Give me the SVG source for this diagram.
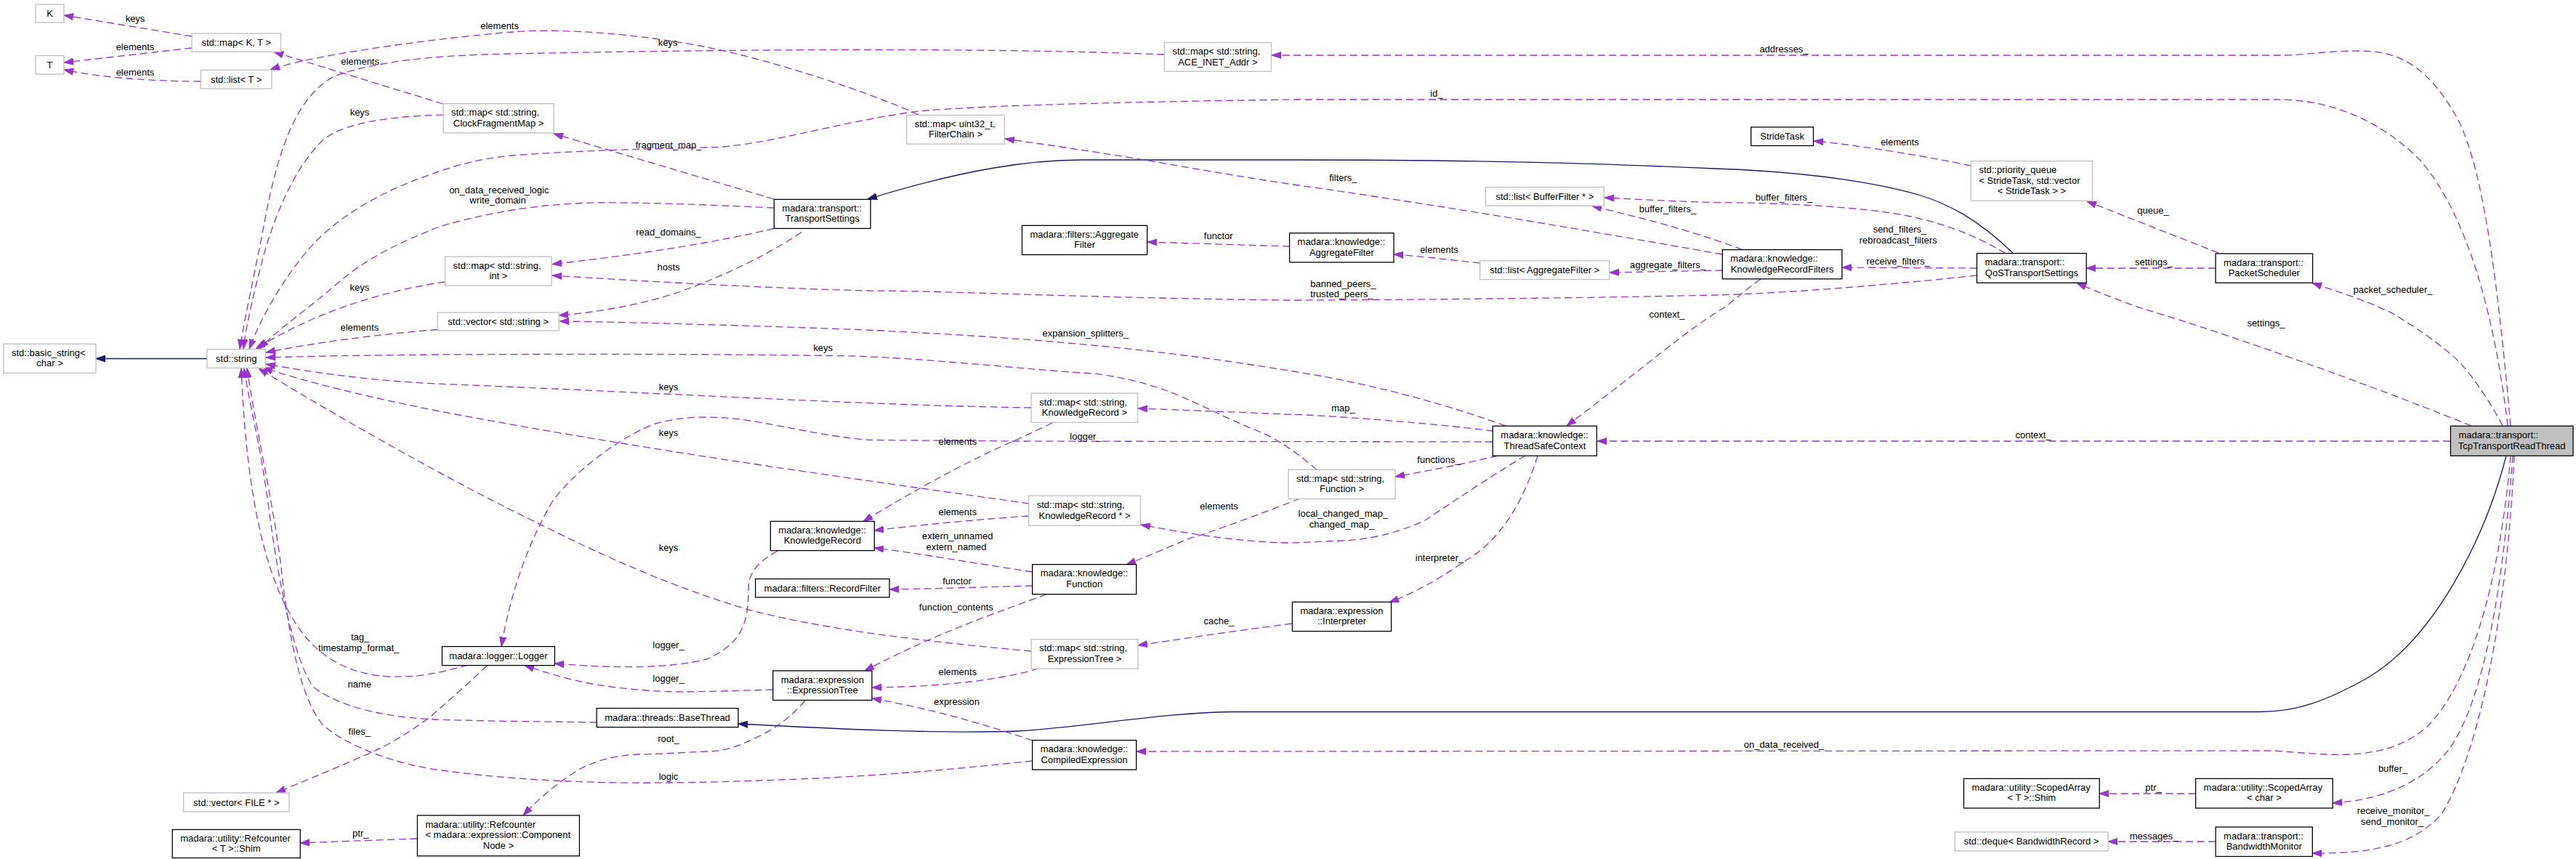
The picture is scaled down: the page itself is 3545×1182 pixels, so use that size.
<svg xmlns="http://www.w3.org/2000/svg" width="3545" height="1182" viewBox="0 0 3545 1182">
<defs>
<marker id="ap" viewBox="0 0 13 10" refX="13" refY="5" markerWidth="13" markerHeight="10" markerUnits="userSpaceOnUse" orient="auto"><path d="M0,0.5 L13,5 L0,9.5 z" fill="#9a32cd" stroke="#9a32cd" stroke-width="1"/></marker>
<marker id="ab" viewBox="0 0 13 10" refX="13" refY="5" markerWidth="13" markerHeight="10" markerUnits="userSpaceOnUse" orient="auto"><path d="M0,0.5 L13,5 L0,9.5 z" fill="#191970" stroke="#191970" stroke-width="1"/></marker>
</defs>
<style>
text{font-family:"Liberation Sans",Arial,Helvetica,sans-serif;font-size:13px;fill:#000}
.m{text-anchor:middle}
.s{text-anchor:start}
rect.b{fill:#fff;stroke:#000;stroke-width:1.3}
rect.g{fill:#fff;stroke:#bfbfbf;stroke-width:1.3}
rect.c{fill:#bfbfbf;stroke:#000;stroke-width:1.3}
.e path{fill:none;stroke:#9a32cd;stroke-width:1.3;stroke-dasharray:10,5.5;marker-end:url(#ap)}
.e path.i{stroke:#191970;stroke-dasharray:none;marker-end:url(#ab)}
</style>
<rect width="3545" height="1182" fill="#fff"/>

<g id="connectors" class="e">
<path d="M264,50 L88,21"/>
<path d="M264,66 L88,86"/>
<path d="M276,112 C230,112 150,109 88,96"/>
<path d="M610,143 L377,71.5"/>
<path d="M1264,158 C1200,128 1060,82 973,65 S780,38 705,44 S440,72 372,96"/>
<path class="i" d="M285,493.5 L132,493.5"/>
<path d="M1602,75 C1350,65 1000,68 700,74 C600,76 520,84 462,104 C410,130 385,200 367,290 C352,370 336,440 330,480"/>
<path d="M610,158 C540,160 470,168 442,195 C405,232 375,300 358,370 C345,420 338,455 335,480"/>
<path d="M3451,586 C3435,450 3400,300 3330,220 C3270,160 3200,137 3134,137 L1780,137 C1560,140 1350,145 1264,153 C1150,168 1050,202 973,203 C880,205 780,208 705,214 C660,218 625,228 590,241 C520,265 465,300 432,335 C395,375 362,430 343,480"/>
<path d="M1065,286 C980,282 880,278 820,279 C760,280 700,288 650,300 C615,308 600,313 590,318 C545,336 500,358 462,392 C420,428 380,455 357,480"/>
<path d="M612,388 C540,398 440,425 352,480"/>
<path d="M602,453.5 C520,460 430,472 366,485"/>
<path d="M1812,646 C1790,628 1760,603 1723,590 C1680,572 1640,550 1601,536 C1560,522 1520,514 1486,513 C1380,505 1280,494 1180,490 C1000,487 800,487 600,488 C500,489 430,490 366,492"/>
<path d="M1419,561 C1200,558 900,540 600,528 C500,523 430,512 366,501"/>
<path d="M1416,693 C1200,662 900,622 600,565 C500,545 420,525 362,506"/>
<path d="M1419,896 C1300,885 1150,870 1030,839 C900,800 800,750 700,700 C600,650 450,565 356,507"/>
<path d="M644,915 C600,928 570,932 536,931 C480,928 445,905 421,877 C370,815 340,700 332,507"/>
<path d="M821,994 C750,993 650,992 600,990 C540,988 470,975 432,946 C410,920 385,820 370,700 C358,610 342,550 336,507"/>
<path d="M1421,1047 C1300,1060 1200,1068 1100,1072 C1000,1076 920,1078 850,1077 C750,1075 680,1070 600,1059 C540,1050 475,1025 445,998 C415,965 398,880 388,790 C378,700 350,580 340,507"/>
<path d="M670,916 C650,935 625,958 590,988 C560,1010 530,1028 500,1040 C460,1058 420,1074 380,1091"/>
<path d="M3455,586 C3440,420 3420,230 3380,160 C3340,90 3300,70 3248,70 C3200,70 3170,76 3141,76 L1750,76"/>
<path d="M1065,274 L762,184"/>
<path class="i" d="M2771,349 C2720,300 2680,280 2640,268 C2560,245 2450,235 2360,232 C2200,225 2050,220 1780,220 L1490,220 C1420,220 1330,232 1194,274"/>
<path d="M1065,314.5 C1000,330 900,348 760,363.5"/>
<path d="M1103,319.5 C1070,342 1010,375 934,402 C880,420 820,430 769,434"/>
<path d="M2720,379 C2600,392 2450,404 2360,406 C2200,410 1900,413 1770,413 C1500,410 1300,400 1190,400 C1050,396 900,388 760,379"/>
<path d="M2370,350 C2200,320 2000,285 1780,254 C1700,242 1620,228 1563,218 C1500,208 1440,199 1383,191"/>
<path d="M2398,343.6 C2330,318 2260,300 2191,283.5"/>
<path d="M2370,372 C2320,373 2260,374 2215,375"/>
<path d="M2423,384 C2400,400 2385,415 2370,425 C2320,455 2270,500 2156,586"/>
<path d="M2037,362 C1990,357 1950,352 1918,350"/>
<path d="M1775,339 L1579,333"/>
<path d="M2760,348.6 C2720,325 2680,308 2620,296 C2560,285 2460,279 2360,278.6 C2300,277 2250,274 2208,272"/>
<path d="M2720.5,369 L2535,368"/>
<path d="M3049,369 L2871,369"/>
<path d="M3053,348 L2872,277"/>
<path d="M2712,228 C2650,215 2560,200 2496,194"/>
<path d="M3401,586 C3300,545 3100,470 2950,425 C2920,415 2890,403 2858,389.5"/>
<path d="M3444,586 C3420,540 3390,500 3371,486 C3340,460 3310,442 3294,432 C3260,415 3220,402 3182,389.5"/>
<path d="M3372,607 L2198,607"/>
<path class="i" d="M3449,627 C3420,740 3350,880 3256,934 C3200,965 3160,979.5 3110,979.5 L1700,979.5 C1600,980 1500,1000 1400,1006 C1300,1010 1150,1003 1016,996"/>
<path d="M3455,627 C3440,800 3400,940 3340,1000 C3300,1035 3250,1040 3200,1038 C3160,1036 3140,1033 3120,1033 L1564,1034"/>
<path d="M3458,627 C3445,800 3420,960 3371,1030 C3340,1070 3290,1100 3210,1105"/>
<path d="M3460,627 C3450,850 3410,1040 3360,1120 C3320,1165 3260,1175 3182,1174"/>
<path d="M3021.6,1092 L2889.2,1092"/>
<path d="M3049,1158 L2901,1158"/>
<path d="M2055,593 C1950,580 1800,570 1770,570 C1700,567 1620,564 1566,562"/>
<path d="M2072,586 C2000,560 1900,530 1780,511 C1650,490 1500,468 1180,453.5 C1000,447 850,443 770,442"/>
<path d="M2054,608 L1394,607 C1300,606 1200,606 1190,605 C1100,596 1040,574 973,574 C930,574 900,582 885,590 C840,612 790,650 760,690 C720,760 700,830 690,889.5"/>
<path d="M2061,627 C2020,637 1980,645 1920,656"/>
<path d="M2099,627 C2060,650 2000,690 1961,716 C1920,735 1880,743 1846,744 C1800,746 1780,747 1770,747 C1700,745 1640,735 1570,722"/>
<path d="M2116,627 C2100,680 2070,740 2019,770 C1990,790 1960,810 1912,829"/>
<path d="M1778,858 C1700,868 1620,880 1566,888"/>
<path d="M1789,686 C1740,705 1660,735 1639,740 C1610,752 1580,765 1550,777"/>
<path d="M1416,710 C1330,716 1260,723 1203,730"/>
<path d="M1448,582 C1420,595 1400,605 1394,607 C1320,640 1250,680 1188,717.5"/>
<path d="M1421,787 C1340,775 1270,762 1203,754"/>
<path d="M1421,806 C1350,808 1290,810 1224,811"/>
<path d="M1440,818 C1380,840 1290,870 1190,923"/>
<path d="M1429,920 C1380,935 1300,945 1200,946"/>
<path d="M1421,1019 C1350,995 1280,975 1200,961"/>
<path d="M1070,758 C1040,775 1030,790 1030,810 C1030,860 1020,885 973,907 C920,920 850,920 763,913"/>
<path d="M1064,949 C1000,951 950,952 934,952 C880,951 840,945 820,942 C780,935 750,925 722,915.7"/>
<path d="M1108,964 C1090,985 1070,1000 1049,1011 C1020,1025 1000,1034 973,1034 C930,1036 900,1038 877,1038 C840,1040 820,1048 800,1057 C770,1075 745,1095 720,1122"/>
<path d="M574,1154 C520,1156 460,1158 413,1160"/>
</g>

<g id="edge-labels" class="m">
<text x="186" y="29.5">keys</text>
<text x="186" y="68.5">elements</text>
<text x="186" y="104">elements</text>
<text x="495.6" y="88.7">elements</text>
<text x="687.6" y="40">elements</text>
<text x="919" y="63">keys</text>
<text x="495" y="159">keys</text>
<text x="1977" y="132.5">id_</text>
<text x="686.8" y="265.5">on_data_received_logic</text>
<text x="685" y="280">write_domain</text>
<text x="494.8" y="400">keys</text>
<text x="494.8" y="455">elements</text>
<text x="1132.6" y="483">keys</text>
<text x="920" y="537">keys</text>
<text x="920" y="600">keys</text>
<text x="920" y="758">keys</text>
<text x="495.6" y="881">tag_</text>
<text x="493.7" y="896">timestamp_format_</text>
<text x="494.8" y="946">name</text>
<text x="494.8" y="1010.5">files_</text>
<text x="920" y="1073">logic</text>
<text x="2455" y="72">addresses_</text>
<text x="920" y="203.5">fragment_map_</text>
<text x="920" y="324">read_domains_</text>
<text x="920" y="371.5">hosts</text>
<text x="1848.4" y="395">banned_peers_</text>
<text x="1846.5" y="409">trusted_peers_</text>
<text x="1848.4" y="248.5">filters_</text>
<text x="2295" y="291.5">buffer_filters_</text>
<text x="2295" y="369">aggregate_filters_</text>
<text x="2294" y="437">context_</text>
<text x="1980.5" y="348">elements</text>
<text x="1676.7" y="329">functor</text>
<text x="2455" y="276">buffer_filters_</text>
<text x="2614.5" y="320">send_filters_</text>
<text x="2612.2" y="334.5">rebroadcast_filters</text>
<text x="2612.2" y="364">receive_filters_</text>
<text x="2964" y="365">settings_</text>
<text x="2963" y="293.5">queue_</text>
<text x="2614.5" y="200">elements</text>
<text x="3118.4" y="448.5">settings_</text>
<text x="3293" y="403">packet_scheduler_</text>
<text x="2798" y="603">context_</text>
<text x="2455" y="1029">on_data_received_</text>
<text x="3293" y="1062">buffer_</text>
<text x="3293.6" y="1120.3">receive_monitor_</text>
<text x="3292" y="1134.8">send_monitor_</text>
<text x="2963.5" y="1088">ptr_</text>
<text x="2964" y="1155">messages_</text>
<text x="1848.4" y="566">map_</text>
<text x="1493.8" y="463">expansion_splitters_</text>
<text x="1494" y="605">logger_</text>
<text x="1980" y="636.5">functions_</text>
<text x="1848.4" y="710.5">local_changed_map_</text>
<text x="1846.5" y="725.8">changed_map_</text>
<text x="1981" y="771.5">interpreter_</text>
<text x="1677.5" y="859">cache_</text>
<text x="1677.5" y="700.5">elements</text>
<text x="1317.8" y="709">elements</text>
<text x="1317.8" y="611.5">elements</text>
<text x="1317.8" y="741.8">extern_unnamed</text>
<text x="1316" y="757">extern_named</text>
<text x="1317" y="803.8">functor</text>
<text x="1315.8" y="839.5">function_contents</text>
<text x="1317.8" y="929.3">elements</text>
<text x="1316.6" y="969.5">expression</text>
<text x="920" y="892">logger_</text>
<text x="920" y="938">logger_</text>
<text x="920" y="1020.5">root_</text>
<text x="496.3" y="1150.5">ptr_</text>
</g>

<g id="n-K"><rect class="g" x="49" y="6" width="39" height="25"/><text class="m" x="68.5" y="23">K</text></g>
<g id="n-T"><rect class="g" x="49" y="76.5" width="39" height="25.5"/><text class="m" x="68.5" y="93.7">T</text></g>
<g id="n-mapKT"><rect class="g" x="264" y="46" width="122.5" height="25.3"/><text class="m" x="325.2" y="63">std::map&lt; K, T &gt;</text></g>
<g id="n-listT"><rect class="g" x="276.3" y="96.4" width="97.6" height="25.7"/><text class="m" x="325.1" y="113.7">std::list&lt; T &gt;</text></g>
<g id="n-basic_string"><rect class="g" x="5" y="473.3" width="127" height="40"/><text class="s" x="16" y="489.8">std::basic_string&lt;</text><text class="m" x="68.5" y="504.3">char &gt;</text></g>
<g id="n-string"><rect class="g" x="285" y="480.6" width="80.4" height="25.7"/><text class="m" x="325.2" y="498">std::string</text></g>
<g id="n-clockmap"><rect class="g" x="610" y="142.7" width="152.2" height="40.2"/><text class="s" x="621" y="159.2">std::map&lt; std::string,</text><text class="m" x="686.1" y="173.7">ClockFragmentMap &gt;</text></g>
<g id="n-TransportSettings"><rect class="b" x="1065.3" y="274.4" width="132.7" height="40"/><text class="s" x="1076.3" y="290.9">madara::transport::</text><text class="m" x="1131.6" y="305.4">TransportSettings</text></g>
<g id="n-mapSI"><rect class="g" x="612.6" y="353.2" width="146.5" height="39.8"/><text class="s" x="623.6" y="369.7">std::map&lt; std::string,</text><text class="m" x="685.9" y="384.2">int &gt;</text></g>
<g id="n-vecS"><rect class="g" x="602.2" y="430.1" width="167" height="25"/><text class="m" x="685.7" y="447">std::vector&lt; std::string &gt;</text></g>
<g id="n-ace"><rect class="g" x="1602.4" y="58.5" width="147" height="39.8"/><text class="s" x="1613.4" y="75">std::map&lt; std::string,</text><text class="m" x="1675.9" y="89.5">ACE_INET_Addr &gt;</text></g>
<g id="n-filterchain"><rect class="g" x="1247.7" y="158.4" width="134.7" height="39.8"/><text class="s" x="1258.7" y="174.9">std::map&lt; uint32_t,</text><text class="m" x="1315" y="189.4">FilterChain &gt;</text></g>
<g id="n-fAggregateFilter"><rect class="b" x="1406.5" y="310.3" width="172.2" height="40.2"/><text class="s" x="1417.5" y="326.8">madara::filters::Aggregate</text><text class="m" x="1492.6" y="341.3">Filter</text></g>
<g id="n-mapSKR"><rect class="g" x="1419.2" y="541.1" width="146.5" height="40.2"/><text class="s" x="1430.2" y="557.6">std::map&lt; std::string,</text><text class="m" x="1492.5" y="572.1">KnowledgeRecord &gt;</text></g>
<g id="n-kAggregateFilter"><rect class="b" x="1774.6" y="320.7" width="143.5" height="40.2"/><text class="s" x="1785.6" y="337.2">madara::knowledge::</text><text class="m" x="1846.4" y="351.7">AggregateFilter</text></g>
<g id="n-listBF"><rect class="g" x="2044.4" y="257.5" width="163" height="25.7"/><text class="m" x="2125.9" y="274.9">std::list&lt; BufferFilter * &gt;</text></g>
<g id="n-listAF"><rect class="g" x="2036.7" y="358.9" width="178" height="25.7"/><text class="m" x="2125.7" y="376.3">std::list&lt; AggregateFilter &gt;</text></g>
<g id="n-ThreadSafeContext"><rect class="b" x="2054.3" y="586.2" width="143.1" height="41"/><text class="s" x="2065.3" y="602.7">madara::knowledge::</text><text class="m" x="2125.9" y="617.5">ThreadSafeContext</text></g>
<g id="n-StrideTask"><rect class="b" x="2409.7" y="174.9" width="85.8" height="25.6"/><text class="m" x="2452.6" y="192.2">StrideTask</text></g>
<g id="n-pq"><rect class="g" x="2712.4" y="221.6" width="167" height="54.7"/><text class="s" x="2723.4" y="238">std::priority_queue</text><text class="s" x="2723.4" y="252.5">&lt; StrideTask, std::vector</text><text class="m" x="2795.9" y="267">&lt; StrideTask &gt; &gt;</text></g>
<g id="n-KRFilters"><rect class="b" x="2370.3" y="343.6" width="164.6" height="40.2"/><text class="s" x="2381.3" y="360.1">madara::knowledge::</text><text class="m" x="2452.6" y="374.6">KnowledgeRecordFilters</text></g>
<g id="n-QoS"><rect class="b" x="2720.5" y="348.6" width="150.7" height="40.6"/><text class="s" x="2731.5" y="365.1">madara::transport::</text><text class="m" x="2795.9" y="379.6">QoSTransportSettings</text></g>
<g id="n-PacketScheduler"><rect class="b" x="3049" y="349" width="133.6" height="40.2"/><text class="s" x="3060" y="365.5">madara::transport::</text><text class="m" x="3115.8" y="380">PacketScheduler</text></g>
<g id="n-TcpTransportReadThread"><rect class="c" x="3372.4" y="586.2" width="168.6" height="41"/><text class="s" x="3383.4" y="602.7">madara::transport::</text><text class="m" x="3456.7" y="617.5">TcpTransportReadThread</text></g>
<g id="n-vecFILE"><rect class="g" x="252.6" y="1091" width="145.4" height="26"/><text class="m" x="325.3" y="1108.5">std::vector&lt; FILE * &gt;</text></g>
<g id="n-RefShim"><rect class="b" x="237.2" y="1141.5" width="176" height="39"/><text class="s" x="248.2" y="1157.5">madara::utility::Refcounter</text><text class="m" x="325.2" y="1172">&lt; T &gt;::Shim</text></g>
<g id="n-Logger"><rect class="b" x="608.4" y="889.6" width="155" height="26"/><text class="m" x="685.9" y="907.1">madara::logger::Logger</text></g>
<g id="n-RefCN"><rect class="b" x="574.4" y="1122" width="223" height="55.8"/><text class="s" x="585.4" y="1138.5">madara::utility::Refcounter</text><text class="s" x="585.4" y="1153">&lt; madara::expression::Component</text><text class="m" x="685.9" y="1167.5">Node &gt;</text></g>
<g id="n-KnowledgeRecord"><rect class="b" x="1060.3" y="717.4" width="143" height="40.2"/><text class="s" x="1071.3" y="733.9">madara::knowledge::</text><text class="m" x="1131.8" y="748.4">KnowledgeRecord</text></g>
<g id="n-RecordFilter"><rect class="b" x="1039.6" y="796.6" width="184.4" height="25.3"/><text class="m" x="1131.8" y="813.7">madara::filters::RecordFilter</text></g>
<g id="n-ExpressionTree"><rect class="b" x="1063.7" y="923" width="136.2" height="40.5"/><text class="s" x="1074.7" y="939.5">madara::expression</text><text class="m" x="1131.8" y="954">::ExpressionTree</text></g>
<g id="n-BaseThread"><rect class="b" x="821.1" y="974.6" width="194.8" height="26"/><text class="m" x="918.5" y="992.1">madara::threads::BaseThread</text></g>
<g id="n-mapSKRp"><rect class="g" x="1415.7" y="682.2" width="153.8" height="41"/><text class="s" x="1426.7" y="698.7">std::map&lt; std::string,</text><text class="m" x="1492.6" y="713.5">KnowledgeRecord * &gt;</text></g>
<g id="n-Function"><rect class="b" x="1420.7" y="776.7" width="143.1" height="41"/><text class="s" x="1431.7" y="793.2">madara::knowledge::</text><text class="m" x="1492.2" y="808">Function</text></g>
<g id="n-mapSET"><rect class="g" x="1419.2" y="879.7" width="146.9" height="40.5"/><text class="s" x="1430.2" y="896.2">std::map&lt; std::string,</text><text class="m" x="1492.6" y="910.7">ExpressionTree &gt;</text></g>
<g id="n-CompiledExpression"><rect class="b" x="1420.7" y="1018.6" width="143.1" height="40.5"/><text class="s" x="1431.7" y="1035.1">madara::knowledge::</text><text class="m" x="1492.2" y="1049.6">CompiledExpression</text></g>
<g id="n-mapSF"><rect class="g" x="1773.1" y="646.3" width="146.9" height="40.1"/><text class="s" x="1784.1" y="662.8">std::map&lt; std::string,</text><text class="m" x="1846.5" y="677.3">Function &gt;</text></g>
<g id="n-Interpreter"><rect class="b" x="1778.4" y="828.4" width="136.2" height="40.2"/><text class="s" x="1789.4" y="844.9">madara::expression</text><text class="m" x="1846.5" y="859.4">::Interpreter</text></g>
<g id="n-SAShim"><rect class="b" x="2702.5" y="1071.4" width="186.7" height="40.6"/><text class="s" x="2713.5" y="1087.9">madara::utility::ScopedArray</text><text class="m" x="2795.8" y="1102.4">&lt; T &gt;::Shim</text></g>
<g id="n-deque"><rect class="g" x="2690.2" y="1144.9" width="210.9" height="26"/><text class="m" x="2795.6" y="1162.4">std::deque&lt; BandwidthRecord &gt;</text></g>
<g id="n-SAchar"><rect class="b" x="3021.6" y="1071.4" width="188.6" height="40.6"/><text class="s" x="3032.6" y="1087.9">madara::utility::ScopedArray</text><text class="m" x="3115.9" y="1102.4">&lt; char &gt;</text></g>
<g id="n-BandwidthMonitor"><rect class="b" x="3049.1" y="1138" width="133.2" height="40.5"/><text class="s" x="3060.1" y="1154.5">madara::transport::</text><text class="m" x="3115.7" y="1169">BandwidthMonitor</text></g>
</svg>
